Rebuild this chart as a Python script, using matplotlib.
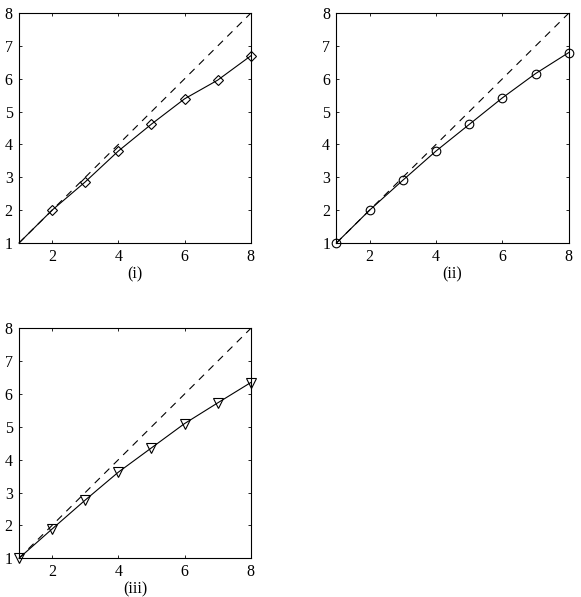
import numpy as np
import matplotlib.pyplot as plt

plt.rcParams['font.family'] = ['Liberation Serif', 'DejaVu Serif']
plt.rcParams['font.size'] = 11

# values
x = [1, 2, 3, 4, 5, 6, 7, 8]
y_i = [1, 2.0, 2.86, 3.80, 4.62, 5.39, 5.96, 6.70]
y_ii = [1, 2.0, 2.91, 3.80, 4.61, 5.42, 6.16, 6.80]
y_iii = [1, 1.89, 2.77, 3.62, 4.36, 5.10, 5.73, 6.35]
ref_line = [1, 8]
xticks = [2, 4, 6, 8]
yticks = [1, 2, 3, 4, 5, 6, 7, 8]
panel_names = ['(i)', '(ii)', '(iii)']


def draw_panel(ax, y, marker, ms, name, markevery=None):
    ax.plot(ref_line, ref_line, color='black', lw=0.8, dashes=(6.5, 5.5))
    ax.plot(x, y, color='black', lw=0.8, marker=marker, ms=ms,
            mfc='none', mec='black', mew=0.8, markevery=markevery,
            clip_on=False)
    ax.set_xlim(1, 8)
    ax.set_ylim(1, 8)
    ax.set_xticks(xticks)
    ax.set_yticks(yticks)
    ax.tick_params(direction='in', top=True, right=True, length=2.5,
                   width=0.6, pad=4.5, labelsize=11.5)
    for s in ax.spines.values():
        s.set_linewidth(0.8)
    ax.set_xlabel(name, fontsize=11.5, labelpad=1)


fig = plt.figure(figsize=(5.81, 5.97), dpi=100)
ax1 = fig.add_axes([0.0327, 0.593, 0.399, 0.385])
ax2 = fig.add_axes([0.579, 0.593, 0.400, 0.385])
ax3 = fig.add_axes([0.0327, 0.065, 0.399, 0.385])

draw_panel(ax1, y_i, 'D', 5.3, panel_names[0], markevery=slice(1, None))
draw_panel(ax2, y_ii, 'o', 6.2, panel_names[1])
draw_panel(ax3, y_iii, 'v', 7.2, panel_names[2])

fig.savefig('out.png', dpi=100)
